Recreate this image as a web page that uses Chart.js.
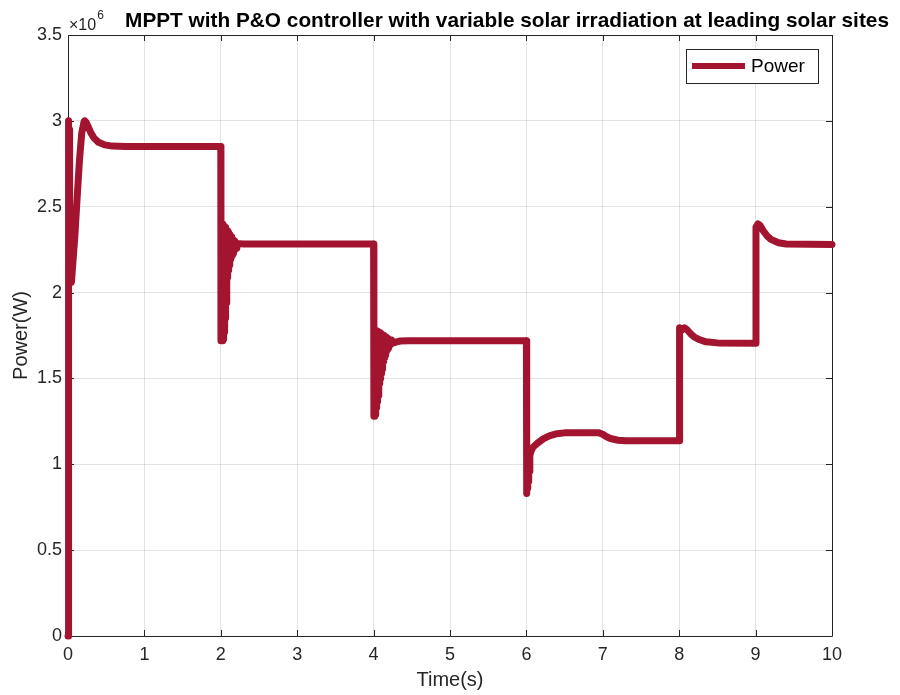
<!DOCTYPE html>
<html><head><meta charset="utf-8">
<script src="https://cdn.jsdelivr.net/npm/chart.js@4"></script>
<style>html,body{margin:0;padding:0;background:#fff}#wrap{width:900px;height:695px}</style>
</head><body><div id="wrap"><canvas id="c" width="900" height="695"></canvas></div>
<script>
// ---------- text ----------
const chartTitle = 'MPPT with P&O controller with variable solar irradiation at leading solar sites';
const seriesName = 'Power';
const xAxisLabel = 'Time(s)';
const yAxisLabel = 'Power(W)';
const yExponent = '6';

// ---------- ticks ----------
const xTicks = [0, 1, 2, 3, 4, 5, 6, 7, 8, 9, 10];
const yTicks = [0, 0.5, 1, 1.5, 2, 2.5, 3, 3.5];

// ---------- series: time (s) ----------
const timeS = [
  // start-up
  0, 0.003, 0.006, 0.009, 0.012, 0.015, 0.018, 0.021, 0.024, 0.03, 0.045, 0.06, 0.09, 0.118, 0.15, 0.18, 0.21, 0.22, 0.24, 0.27, 0.30, 0.34, 0.40, 0.48, 0.58, 0.75, 1.0,
  // step at 2 s
  2.000, 2.002, 2.005, 2.010, 2.015, 2.020, 2.025, 2.030, 2.035, 2.040, 2.045, 2.050, 2.055, 2.060, 2.065, 2.070, 2.075, 2.080, 2.085, 2.090,
  2.095, 2.100, 2.105, 2.110, 2.115, 2.120, 2.125, 2.130, 2.135, 2.140, 2.145, 2.150, 2.155, 2.160, 2.165, 2.170, 2.175, 2.180, 2.185, 2.190,
  2.195, 2.200, 2.210, 2.220, 2.240, 2.300,
  // step at 4 s
  4.000, 4.003, 4.005, 4.010, 4.015, 4.020, 4.025, 4.030, 4.035, 4.040, 4.045, 4.050, 4.055, 4.060, 4.065, 4.070, 4.075, 4.080, 4.085, 4.090,
  4.095, 4.100, 4.105, 4.110, 4.115, 4.120, 4.125, 4.130, 4.135, 4.140, 4.145, 4.150, 4.155, 4.160, 4.165, 4.170, 4.175, 4.180, 4.185, 4.190,
  4.195, 4.200, 4.210, 4.220, 4.235, 4.250, 4.300, 4.350, 4.450,
  // step at 6 s
  6.000, 6.004, 6.010, 6.015, 6.020, 6.025, 6.030, 6.035, 6.045, 6.060, 6.080, 6.100, 6.150, 6.220, 6.300, 6.400, 6.500, 6.950, 7.000, 7.050, 7.100, 7.200, 7.300,
  // step at 8 s
  8.0, 8.005, 8.03, 8.07, 8.10, 8.15, 8.20, 8.27, 8.35, 8.50,
  // step at 9 s
  9.0, 9.005, 9.03, 9.06, 9.10, 9.15, 9.20, 9.30, 9.40, 10.0
];

// ---------- series: power (x10^6 W) ----------
const powerMW = [
  // start-up
  0, 3.00, 2.10, 2.98, 2.08, 2.95, 2.07, 2.90, 2.07, 2.10, 2.06, 2.15, 2.33, 2.54, 2.77, 2.93, 2.995, 3.00, 2.99, 2.96, 2.93, 2.90, 2.875, 2.86, 2.853, 2.85, 2.85,
  // step at 2 s
  2.85, 1.72, 2.40, 1.72, 2.40, 1.72, 2.40, 1.73, 2.39, 1.74, 2.385, 1.77, 2.38, 1.85, 2.37, 1.94, 2.365, 2.03, 2.36, 2.09,
  2.35, 2.13, 2.345, 2.16, 2.34, 2.18, 2.33, 2.195, 2.325, 2.21, 2.32, 2.22, 2.31, 2.23, 2.305, 2.24, 2.30, 2.25, 2.295, 2.255,
  2.29, 2.26, 2.285, 2.275, 2.285, 2.283,
  // step at 4 s
  2.283, 1.28, 1.78, 1.28, 1.78, 1.29, 1.78, 1.31, 1.777, 1.33, 1.775, 1.365, 1.773, 1.40, 1.77, 1.435, 1.768, 1.47, 1.765, 1.50,
  1.762, 1.53, 1.758, 1.555, 1.755, 1.58, 1.752, 1.60, 1.748, 1.62, 1.745, 1.635, 1.742, 1.65, 1.738, 1.66, 1.735, 1.67, 1.732, 1.678,
  1.73, 1.685, 1.727, 1.695, 1.724, 1.705, 1.713, 1.718, 1.72,
  // step at 6 s
  1.72, 0.83, 0.95, 0.86, 1.00, 0.90, 1.02, 0.96, 1.05, 1.075, 1.095, 1.105, 1.125, 1.148, 1.165, 1.178, 1.183, 1.183, 1.175, 1.16, 1.15, 1.14, 1.137,
  // step at 8 s
  1.137, 1.795, 1.78, 1.795, 1.785, 1.76, 1.74, 1.725, 1.713, 1.707,
  // step at 9 s
  1.705, 2.38, 2.40, 2.39, 2.36, 2.33, 2.31, 2.29, 2.283, 2.28
];

const lineColor = '#A2142F';
const axisColor = '#262626';
const fontFam = '"Liberation Sans", Arial, Helvetica, sans-serif';

const points = timeS.map((t, i) => ({ x: t, y: powerMW[i] }));

const matlabDecor = {
  id: 'matlabDecor',
  beforeDatasetsDraw(chart) {
    const { ctx, chartArea: a, scales: { x, y } } = chart;
    ctx.save();
    ctx.strokeStyle = axisColor;
    ctx.lineWidth = 1;
    ctx.beginPath();
    ctx.rect(Math.round(a.left) + 0.5, Math.round(a.top) + 0.5, Math.round(a.right - a.left), Math.round(a.bottom - a.top));
    ctx.stroke();
    const tl = 6;
    ctx.beginPath();
    xTicks.forEach(v => {
      const px = Math.round(x.getPixelForValue(v)) + 0.5;
      ctx.moveTo(px, a.bottom); ctx.lineTo(px, a.bottom - tl);
      ctx.moveTo(px, a.top); ctx.lineTo(px, a.top + tl);
    });
    yTicks.forEach(v => {
      const py = Math.round(y.getPixelForValue(v)) + 0.5;
      ctx.moveTo(a.left, py); ctx.lineTo(a.left + tl, py);
      ctx.moveTo(a.right, py); ctx.lineTo(a.right - tl, py);
    });
    ctx.stroke();
    ctx.restore();
  },
  afterDraw(chart) {
    const { ctx, chartArea: a } = chart;
    ctx.save();
    // title
    ctx.fillStyle = '#000';
    ctx.font = 'bold 20.8px ' + fontFam;
    ctx.textAlign = 'center';
    ctx.textBaseline = 'alphabetic';
    ctx.fillText(chartTitle, 507, 27);
    // exponent
    ctx.fillStyle = axisColor;
    ctx.textAlign = 'left';
    ctx.font = '16px ' + fontFam;
    const base = '\u00d710';
    ctx.fillText(base, a.left + 1, 30);
    const w = ctx.measureText(base).width;
    ctx.font = '12px ' + fontFam;
    ctx.fillText(yExponent, a.left + 1 + w + 1, 19);
    // legend
    const lx = 686, ly = 49, lw = 132, lh = 34;
    ctx.fillStyle = '#fff';
    ctx.fillRect(lx, ly, lw, lh);
    ctx.strokeStyle = axisColor;
    ctx.lineWidth = 1;
    ctx.strokeRect(lx + 0.5, ly + 0.5, lw, lh);
    ctx.strokeStyle = lineColor;
    ctx.lineWidth = 6;
    ctx.beginPath();
    ctx.moveTo(692, 66); ctx.lineTo(745, 66);
    ctx.stroke();
    ctx.fillStyle = '#000';
    ctx.font = '19px ' + fontFam;
    ctx.textBaseline = 'middle';
    ctx.fillText(seriesName, 751, 67);
    ctx.restore();
  }
};

new Chart(document.getElementById('c'), {
  type: 'line',
  data: {
    datasets: [{
      label: seriesName,
      data: points,
      borderColor: lineColor,
      backgroundColor: lineColor,
      borderWidth: 7,
      pointRadius: 0,
      tension: 0,
      fill: false,
      borderJoinStyle: 'round',
      borderCapStyle: 'round',
      clip: 6
    }]
  },
  options: {
    responsive: false,
    animation: false,
    devicePixelRatio: 1,
    layout: { padding: { top: 35, right: 68, left: 0, bottom: 0 } },
    plugins: { legend: { display: false }, title: { display: false }, tooltip: { enabled: false } },
    scales: {
      x: {
        type: 'linear', min: 0, max: 10,
        afterBuildTicks: s => { s.ticks = xTicks.map(v => ({ value: v })); },
        afterFit: s => { s.height = 59; },
        grid: { color: 'rgba(38,38,38,0.13)', drawTicks: false, lineWidth: 1 },
        border: { display: false },
        ticks: { color: axisColor, font: { family: fontFam, size: 18 }, padding: 8, maxRotation: 0, autoSkip: false, callback: v => String(v) },
        title: { display: true, text: xAxisLabel, color: axisColor, font: { family: fontFam, size: 20 }, padding: { top: 0, bottom: 3 } }
      },
      y: {
        type: 'linear', min: 0, max: 3.5,
        afterBuildTicks: s => { s.ticks = yTicks.map(v => ({ value: v })); },
        afterFit: s => { s.width = 68; },
        grid: { color: 'rgba(38,38,38,0.13)', drawTicks: false, lineWidth: 1 },
        border: { display: false },
        ticks: { color: axisColor, font: { family: fontFam, size: 18 }, padding: 6, autoSkip: false, callback: v => String(v) },
        title: { display: true, text: yAxisLabel, color: axisColor, font: { family: fontFam, size: 20 }, padding: { top: 9, bottom: 0 } }
      }
    }
  },
  plugins: [matlabDecor]
});
</script>
</body></html>
